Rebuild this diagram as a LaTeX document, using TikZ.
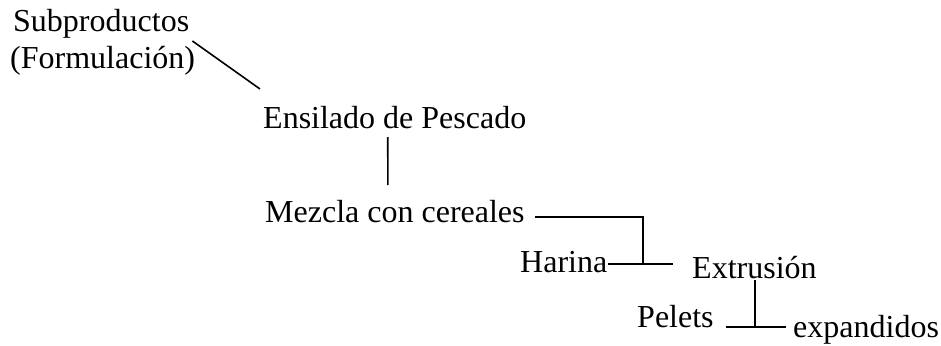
\documentclass[tikz,border=0pt]{standalone}
\usepackage{fontspec}
\setmainfont{Liberation Serif}
\begin{document}
\begin{tikzpicture}[x=1pt,y=-1pt,
        etiqueta/.style={anchor=base west,inner sep=0pt,font=\fontsize{32}{38}\selectfont},
        linea/.style={line width=1.6pt}]
    \useasboundingbox (0,0) rectangle (941,345);
    % textos
    \node[etiqueta] (subp) at (13,32) {Subproductos};
    \node[etiqueta] (form) at (10,68) {(Formulación)};
    \node[etiqueta] (ensil) at (263,128) {Ensilado de Pescado};
    \node[etiqueta] (mezcla) at (265,222) {Mezcla con cereales};
    \node[etiqueta] (harina) at (520,272) {Harina};
    \node[etiqueta] (extr) at (692,278) {Extrusión};
    \node[etiqueta] (pelets) at (637,327) {Pelets};
    \node[etiqueta] (expan) at (793,337) {expandidos};
    % puntos de union
    \coordinate (diag) at (260,89);
    \coordinate (codo1) at (643,217);
    \coordinate (union1) at (643,264);
    \coordinate (union2) at (755,327);
    % conectores
    \draw[linea] ([shift={(3,9)}]subp.base east) -- (diag);
    \draw[linea] ([shift={(-7,9)}]ensil.base) -- ([shift={(-7,-37)}]mezcla.base);
    \draw[linea] ([shift={(10,-5)}]mezcla.base east) -- (codo1) -- (union1);
    \draw[linea] ([shift={(1,-8)}]harina.base east) -- ([xshift=-19]extr.base west |- union1);
    \draw[linea] ([shift={(63,2)}]extr.base west) -- (union2);
    \draw[linea] ([xshift=12]pelets.base east) -- ([shift={(-7,-10)}]expan.base west);
\end{tikzpicture}
\end{document}
